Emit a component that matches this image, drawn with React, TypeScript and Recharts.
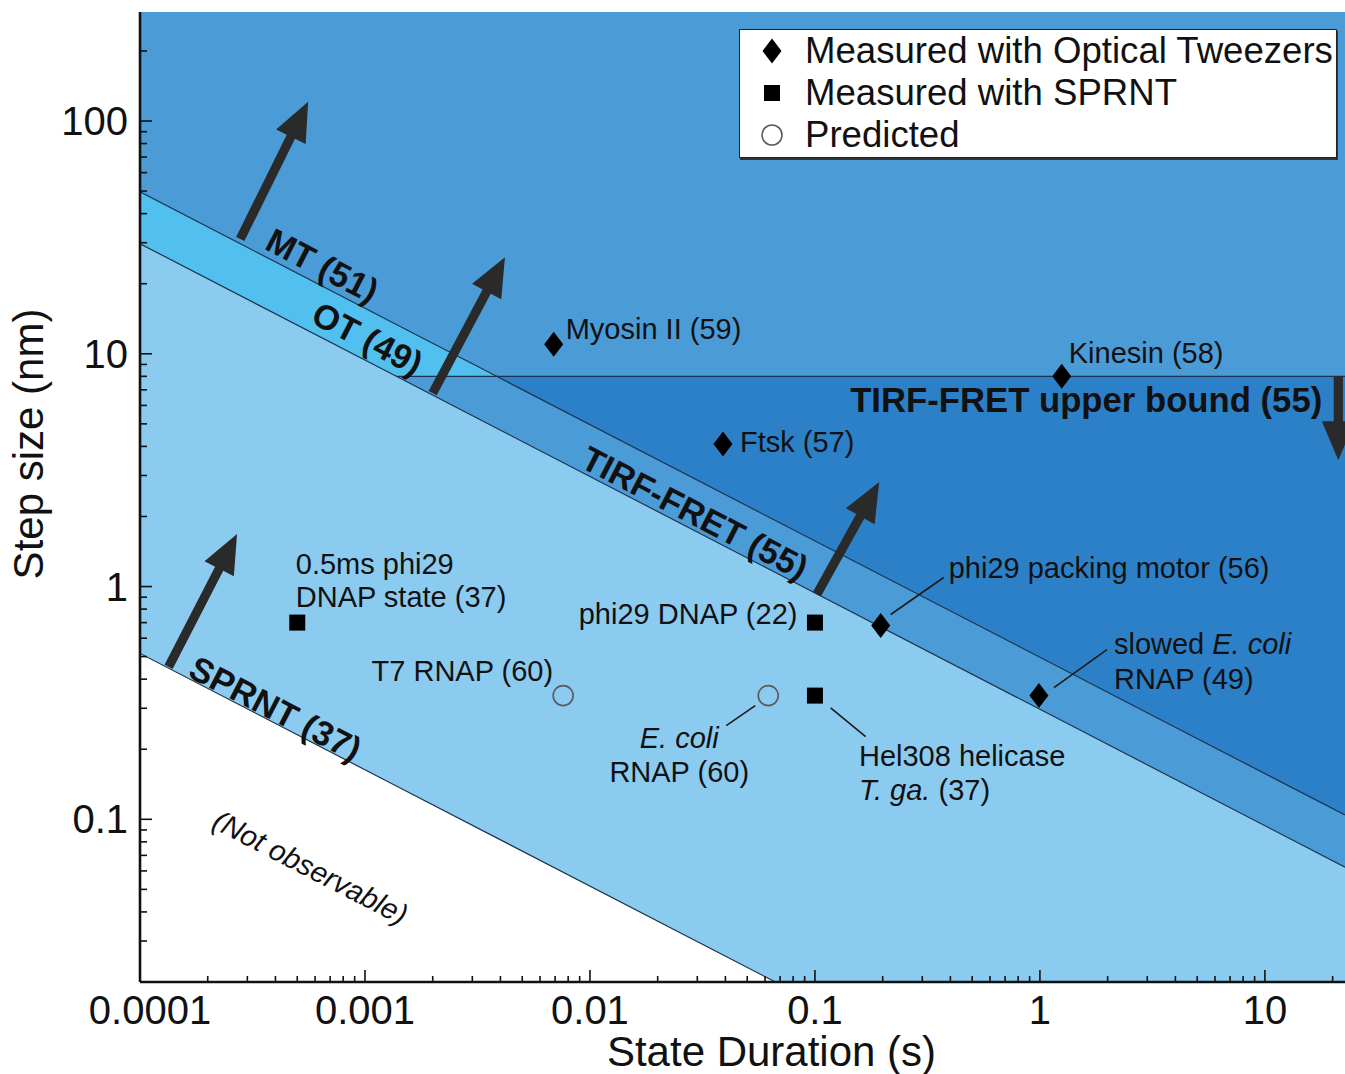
import React from 'react';
import {
  ComposedChart,
  Area,
  Line,
  Scatter,
  XAxis,
  YAxis,
  ReferenceLine,
  ReferenceDot,
  Legend,
} from 'recharts';

const FONT = '"Liberation Sans", Arial, Helvetica, sans-serif';

// ---------------- data ----------------
// axis ranges (real units)
const durationRange = [0.0001, 22.7]; // s
const stepRange = [0.02, 294]; // nm

const durationTickValues = [0.0001, 0.001, 0.01, 0.1, 1, 10];
const durationTickLabels = ['0.0001', '0.001', '0.01', '0.1', '1', '10'];
const stepTickValues = [0.1, 1, 10, 100];
const stepTickLabels = ['0.1', '1', '10', '100'];
const minorTickMultipliers = [2, 3, 4, 5, 6, 7, 8, 9];

// detection limits (endpoints of each limit line: duration s, step nm)
const sprntLimit = [
  { t: 0.0001, s: 0.516 },
  { t: 0.0667, s: 0.02 },
];
const otLimit = [
  { t: 0.0001, s: 29.7 },
  { t: 22.7, s: 0.0623 },
];
const mtLimit = [
  { t: 0.0001, s: 49.6 },
  { t: 22.7, s: 0.1043 },
];
const tirfUpperBound = 8.0;

// measured / predicted steps
const tweezerPoints = [
  { name: 'Myosin II (59)', t: 0.0069, s: 11.0 },
  { name: 'Kinesin (58)', t: 1.25, s: 8.0 },
  { name: 'Ftsk (57)', t: 0.039, s: 4.1 },
  { name: 'phi29 packing motor (56)', t: 0.196, s: 0.68 },
  { name: 'slowed E. coli RNAP (49)', t: 0.99, s: 0.34 },
];
const sprntPoints = [
  { name: '0.5ms phi29 DNAP state (37)', t: 0.0005, s: 0.7 },
  { name: 'phi29 DNAP (22)', t: 0.1, s: 0.7 },
  { name: 'Hel308 helicase T. ga. (37)', t: 0.1, s: 0.34 },
];
const predictedPoints = [
  { name: 'T7 RNAP (60)', t: 0.0076, s: 0.34 },
  { name: 'E. coli RNAP (60)', t: 0.062, s: 0.34 },
];

// improvement arrows (tail -> tip)
const arrows = [
  { id: 'mt', from: { t: 0.000279, s: 31.1 }, to: { t: 0.000559, s: 121 } },
  { id: 'ot', from: { t: 0.002, s: 6.78 }, to: { t: 0.00419, s: 26.0 } },
  { id: 'tirf', from: { t: 0.102, s: 0.927 }, to: { t: 0.193, s: 2.81 } },
  { id: 'sprnt', from: { t: 0.000134, s: 0.452 }, to: { t: 0.00027, s: 1.68 } },
  { id: 'tirfub', from: { t: 21.2, s: 8.0 }, to: { t: 21.2, s: 3.49 } },
];

// region labels (anchor = baseline start)
const regionLabels = [
  { id: 'mt', text: 'MT (51)', t: 0.000353, s: 28.3 },
  { id: 'ot', text: 'OT (49)', t: 0.000565, s: 13.7 },
  { id: 'tirf', text: 'TIRF-FRET (55)', t: 0.00891, s: 3.28 },
  { id: 'sprnt', text: 'SPRNT (37)', t: 0.000161, s: 0.412 },
  { id: 'none', text: '(Not observable)', t: 0.000206, s: 0.0925 },
  { id: 'tirfub', text: 'TIRF-FRET upper bound (55)', t: 0.1434, s: 5.62 },
];

const legendItems = [
  { kind: 'diamond', label: 'Measured with Optical Tweezers' },
  { kind: 'square', label: 'Measured with SPRNT' },
  { kind: 'circle', label: 'Predicted' },
];

// ---------------- styles ----------------
const COLORS = {
  light: '#8CCBF0',
  medium: '#4B9BD7',
  cyan: '#52C0EE',
  dark: '#2C80C7',
  edge: '#1B3550',
  arrow: '#2A2A2A',
  text: '#111111',
};

const regionLabelStyle: Record<string, any> = {
  mt: { angle: 27.3, size: 34.5, weight: 'bold', italic: false },
  ot: { angle: 27.3, size: 34.5, weight: 'bold', italic: false },
  tirf: { angle: 27.3, size: 34.5, weight: 'bold', italic: false },
  sprnt: { angle: 27.3, size: 34.5, weight: 'bold', italic: false },
  none: { angle: 27.3, size: 29, weight: 'normal', italic: true },
  tirfub: { angle: 0, size: 34.7, weight: 'bold', italic: false },
};

type Part = [string, boolean?];
type LabelLayout = {
  anchor: 'start' | 'middle' | 'end';
  dx: number;
  lines: { dy: number; parts: Part[] }[];
  leader?: [number, number, number, number];
};

const pointLabelLayout: Record<string, LabelLayout> = {
  'Myosin II (59)': { anchor: 'start', dx: 12, lines: [{ dy: -5.5, parts: [['Myosin II (59)']] }] },
  'Kinesin (58)': { anchor: 'start', dx: 7, lines: [{ dy: -13.5, parts: [['Kinesin (58)']] }] },
  'Ftsk (57)': { anchor: 'start', dx: 17, lines: [{ dy: 8, parts: [['Ftsk (57)']] }] },
  'phi29 packing motor (56)': {
    anchor: 'start',
    dx: 68,
    lines: [{ dy: -48, parts: [['phi29 packing motor (56)']] }],
    leader: [10, -11, 63, -48],
  },
  'slowed E. coli RNAP (49)': {
    anchor: 'start',
    dx: 75,
    lines: [
      { dy: -42, parts: [['slowed '], ['E. coli', true]] },
      { dy: -7, parts: [['RNAP (49)']] },
    ],
    leader: [15, -8, 68, -46],
  },
  '0.5ms phi29 DNAP state (37)': {
    anchor: 'start',
    dx: -1.5,
    lines: [
      { dy: -48.5, parts: [['0.5ms phi29']] },
      { dy: -15.5, parts: [['DNAP state (37)']] },
    ],
  },
  'phi29 DNAP (22)': { anchor: 'end', dx: -17.5, lines: [{ dy: 1, parts: [['phi29 DNAP (22)']] }] },
  'Hel308 helicase T. ga. (37)': {
    anchor: 'start',
    dx: 44,
    lines: [
      { dy: 70, parts: [['Hel308 helicase']] },
      { dy: 104, parts: [['T. ga.', true], [' (37)']] },
    ],
    leader: [15.7, 12.3, 50.7, 41],
  },
  'T7 RNAP (60)': { anchor: 'end', dx: -10, lines: [{ dy: -15, parts: [['T7 RNAP (60)']] }] },
  'E. coli RNAP (60)': {
    anchor: 'middle',
    dx: -89,
    lines: [
      { dy: 52, parts: [['E. coli', true]] },
      { dy: 86, parts: [['RNAP (60)']] },
    ],
    leader: [-13, 10, -42, 30],
  },
};

// ---------------- derived chart data ----------------
const L = Math.log10;
const xMin = L(durationRange[0]);
const xMax = L(durationRange[1]);
const yMin = L(stepRange[0]);
const yMax = L(stepRange[1]);
const y8 = L(tirfUpperBound);

const lineAt = (seg: { t: number; s: number }[], x: number) => {
  const x0 = L(seg[0].t), y0 = L(seg[0].s), x1 = L(seg[1].t), y1 = L(seg[1].s);
  return y0 + ((y1 - y0) * (x - x0)) / (x1 - x0);
};
const crossAt = (seg: { t: number; s: number }[], yv: number) => {
  const x0 = L(seg[0].t), y0 = L(seg[0].s), x1 = L(seg[1].t), y1 = L(seg[1].s);
  return x0 + ((yv - y0) * (x1 - x0)) / (y1 - y0);
};

const otCrossX = crossAt(otLimit, y8);
const mtCrossX = crossAt(mtLimit, y8);
const sprntEndX = L(sprntLimit[1].t);
const sampleXs = [xMin, otCrossX, mtCrossX, sprntEndX, xMax].sort((a, b) => a - b);

const regionRows = sampleXs.map((x) => {
  const sp = lineAt(sprntLimit, x);
  const ot = lineAt(otLimit, x);
  const mt = lineAt(mtLimit, x);
  return {
    x,
    sprntFill: [Math.max(sp, yMin), yMax],
    otFill: [ot, yMax],
    cyanFill: [Math.max(ot, y8), Math.max(mt, y8)],
    darkFill: [Math.min(mt, y8), y8],
    sprntEdge: x <= sprntEndX + 1e-9 ? Math.max(sp, yMin) : null,
    otEdge: ot,
    mtEdge: mt,
    tirfEdge: x >= otCrossX - 1e-9 ? y8 : null,
  };
});

const toRows = (pts: { name: string; t: number; s: number }[]) =>
  pts.map((p) => ({ name: p.name, x: L(p.t), y: L(p.s) }));

const buildTicks = (lo: number, hi: number) => {
  const out: number[] = [];
  for (let d = Math.floor(L(lo)); d <= Math.floor(L(hi)); d++) {
    [1, ...minorTickMultipliers].forEach((k) => {
      const v = k * Math.pow(10, d);
      if (v >= lo * 0.999 && v <= hi * 1.001) out.push(L(v));
    });
  }
  return out;
};
const xTicks = buildTicks(durationRange[0], durationRange[1]);
const yTicks = buildTicks(stepRange[0], stepRange[1]).filter((v) => v > yMin + 1e-6);

const majorIndex = (values: number[], v: number) => values.findIndex((m) => Math.abs(L(m) - v) < 1e-6);

// ---------------- rendering helpers ----------------
const XTick = (props: any) => {
  const { x, y, payload } = props;
  const idx = majorIndex(durationTickValues, payload.value);
  const major = idx >= 0;
  return (
    <g>
      <line x1={x} x2={x} y1={y} y2={y - (major ? 12 : 6)} stroke="#111" strokeWidth={1.6} />
      {major && (
        <text
          x={x + (idx === 0 ? 10 : 0)}
          y={y + 42}
          textAnchor="middle"
          fontFamily={FONT}
          fontSize={40}
          fill={COLORS.text}
        >
          {durationTickLabels[idx]}
        </text>
      )}
    </g>
  );
};

const YTick = (props: any) => {
  const { x, y, payload } = props;
  const idx = majorIndex(stepTickValues, payload.value);
  const major = idx >= 0;
  return (
    <g>
      <line x1={x} x2={x + (major ? 12 : 7)} y1={y} y2={y} stroke="#111" strokeWidth={1.6} />
      {major && (
        <text x={x - 12} y={y + 14} textAnchor="end" fontFamily={FONT} fontSize={40} fill={COLORS.text}>
          {stepTickLabels[idx]}
        </text>
      )}
    </g>
  );
};

const ArrowShape = (props: any) => {
  const { x1, y1, x2, y2 } = props;
  const dx = x2 - x1;
  const dy = y2 - y1;
  const len = Math.hypot(dx, dy) || 1;
  const ux = dx / len, uy = dy / len;
  const px = -uy, py = ux;
  const headLen = 39, headHalf = 16.5, shaftHalf = 4.6;
  const bx = x2 - ux * headLen, by = y2 - uy * headLen;
  const pts = [
    [x1 + px * shaftHalf, y1 + py * shaftHalf],
    [bx + px * shaftHalf, by + py * shaftHalf],
    [bx + px * headHalf, by + py * headHalf],
    [x2, y2],
    [bx - px * headHalf, by - py * headHalf],
    [bx - px * shaftHalf, by - py * shaftHalf],
    [x1 - px * shaftHalf, y1 - py * shaftHalf],
  ];
  return <polygon points={pts.map((p) => p.join(',')).join(' ')} fill={COLORS.arrow} />;
};

const makeRegionLabel = (id: string, text: string) => (props: any) => {
  const { cx, cy } = props;
  const st = regionLabelStyle[id];
  return (
    <text
      x={cx}
      y={cy}
      transform={st.angle ? `rotate(${st.angle}, ${cx}, ${cy})` : undefined}
      fontFamily={FONT}
      fontSize={st.size}
      fontWeight={st.weight}
      fontStyle={st.italic ? 'italic' : 'normal'}
      fill={COLORS.text}
    >
      {text}
    </text>
  );
};

const Marker = ({ kind, cx, cy }: { kind: string; cx: number; cy: number }) => {
  if (kind === 'diamond') {
    return (
      <polygon
        points={`${cx},${cy - 12.5} ${cx + 9.5},${cy} ${cx},${cy + 12.5} ${cx - 9.5},${cy}`}
        fill="#000"
      />
    );
  }
  if (kind === 'square') {
    return <rect x={cx - 8} y={cy - 8} width={16} height={16} fill="#000" />;
  }
  return <circle cx={cx} cy={cy} r={10} fill="none" stroke="#5A5A5A" strokeWidth={1.6} />;
};

const makePointShape = (kind: string) => (props: any) => {
  const { cx, cy, payload } = props;
  const lay = pointLabelLayout[payload?.name];
  return (
    <g>
      <Marker kind={kind} cx={cx} cy={cy} />
      {lay && lay.leader && (
        <line
          x1={cx + lay.leader[0]}
          y1={cy + lay.leader[1]}
          x2={cx + lay.leader[2]}
          y2={cy + lay.leader[3]}
          stroke="#1a1a1a"
          strokeWidth={1.6}
        />
      )}
      {lay &&
        lay.lines.map((ln, i) => (
          <text
            key={i}
            x={cx + lay.dx}
            y={cy + ln.dy}
            textAnchor={lay.anchor}
            fontFamily={FONT}
            fontSize={29}
            fill={COLORS.text}
          >
            {ln.parts.map((p, j) => (
              <tspan key={j} fontStyle={p[1] ? 'italic' : 'normal'}>
                {p[0]}
              </tspan>
            ))}
          </text>
        ))}
    </g>
  );
};

const LegendBox = () => (
  <div
    style={{
      boxSizing: 'border-box',
      width: 598,
      height: 129,
      background: '#fff',
      border: '1.5px solid #222',
      boxShadow: '1px 2px 0 #333',
      fontFamily: FONT,
      fontSize: 36.6,
      color: COLORS.text,
      paddingTop: 0,
    }}
  >
    {legendItems.map((it) => (
      <div key={it.kind} style={{ display: 'flex', alignItems: 'center', height: 42, lineHeight: '42px' }}>
        <svg width={65} height={42} style={{ flex: 'none' }}>
          <Marker kind={it.kind} cx={32} cy={21} />
        </svg>
        <span style={{ whiteSpace: 'nowrap' }}>{it.label}</span>
      </div>
    ))}
  </div>
);

export default function App() {
  return (
    <div style={{ position: 'absolute', left: 0, top: 0, width: 1345, height: 1074, background: '#fff' }}>
      <ComposedChart
        width={1345}
        height={1074}
        data={regionRows}
        margin={{ top: 12, right: 0, bottom: 0, left: 0 }}
      >
        <Area dataKey="sprntFill" type="linear" fill={COLORS.light} fillOpacity={1} stroke="none" dot={false} activeDot={false} isAnimationActive={false} />
        <Area dataKey="otFill" type="linear" fill={COLORS.medium} fillOpacity={1} stroke="none" dot={false} activeDot={false} isAnimationActive={false} />
        <Area dataKey="cyanFill" type="linear" fill={COLORS.cyan} fillOpacity={1} stroke="none" dot={false} activeDot={false} isAnimationActive={false} />
        <Area dataKey="darkFill" type="linear" fill={COLORS.dark} fillOpacity={1} stroke="none" dot={false} activeDot={false} isAnimationActive={false} />

        <Line dataKey="sprntEdge" type="linear" stroke={COLORS.edge} strokeWidth={1.2} dot={false} activeDot={false} isAnimationActive={false} />
        <Line dataKey="otEdge" type="linear" stroke={COLORS.edge} strokeWidth={1.2} dot={false} activeDot={false} isAnimationActive={false} />
        <Line dataKey="mtEdge" type="linear" stroke={COLORS.edge} strokeWidth={1.2} dot={false} activeDot={false} isAnimationActive={false} />
        <Line dataKey="tirfEdge" type="linear" stroke={COLORS.edge} strokeWidth={1.2} dot={false} activeDot={false} isAnimationActive={false} />

        {arrows.map((a) => (
          <ReferenceLine
            key={a.id}
            segment={[
              { x: L(a.from.t), y: L(a.from.s) },
              { x: L(a.to.t), y: L(a.to.s) },
            ]}
            shape={ArrowShape}
          />
        ))}

        {regionLabels.map((r) => (
          <ReferenceDot key={r.id} x={L(r.t)} y={L(r.s)} r={1} shape={makeRegionLabel(r.id, r.text)} />
        ))}

        <Scatter data={toRows(tweezerPoints)} dataKey="y" shape={makePointShape('diamond')} isAnimationActive={false} />
        <Scatter data={toRows(sprntPoints)} dataKey="y" shape={makePointShape('square')} isAnimationActive={false} />
        <Scatter data={toRows(predictedPoints)} dataKey="y" shape={makePointShape('circle')} isAnimationActive={false} />

        <XAxis
          type="number"
          dataKey="x"
          domain={[xMin, xMax]}
          allowDataOverflow
          ticks={xTicks}
          interval={0}
          tick={<XTick />}
          tickLine={false}
          tickSize={0}
          tickMargin={0}
          height={92}
          axisLine={{ stroke: '#111', strokeWidth: 2.6 }}
          label={{
            content: (p: any) => {
              const vb = p.viewBox || { x: 140, y: 982, width: 1205, height: 92 };
              return (
                <text
                  x={vb.x + vb.width / 2 + 29}
                  y={vb.y + 84}
                  textAnchor="middle"
                  fontFamily={FONT}
                  fontSize={42}
                  fill={COLORS.text}
                >
                  State Duration (s)
                </text>
              );
            },
          }}
        />
        <YAxis
          type="number"
          domain={[yMin, yMax]}
          allowDataOverflow
          ticks={yTicks}
          interval={0}
          tick={<YTick />}
          tickLine={false}
          tickSize={0}
          tickMargin={0}
          width={140}
          axisLine={{ stroke: '#111', strokeWidth: 2.6 }}
          label={{
            content: () => (
              <text
                x={43}
                y={444}
                transform="rotate(-90, 43, 444)"
                textAnchor="middle"
                fontFamily={FONT}
                fontSize={42}
                fill={COLORS.text}
              >
                Step size (nm)
              </text>
            ),
          }}
        />
        <Legend
          layout="horizontal"
          verticalAlign="middle"
          align="center"
          wrapperStyle={{ left: 739, top: 29, width: 598, height: 129 }}
          content={LegendBox}
        />
      </ComposedChart>
    </div>
  );
}
